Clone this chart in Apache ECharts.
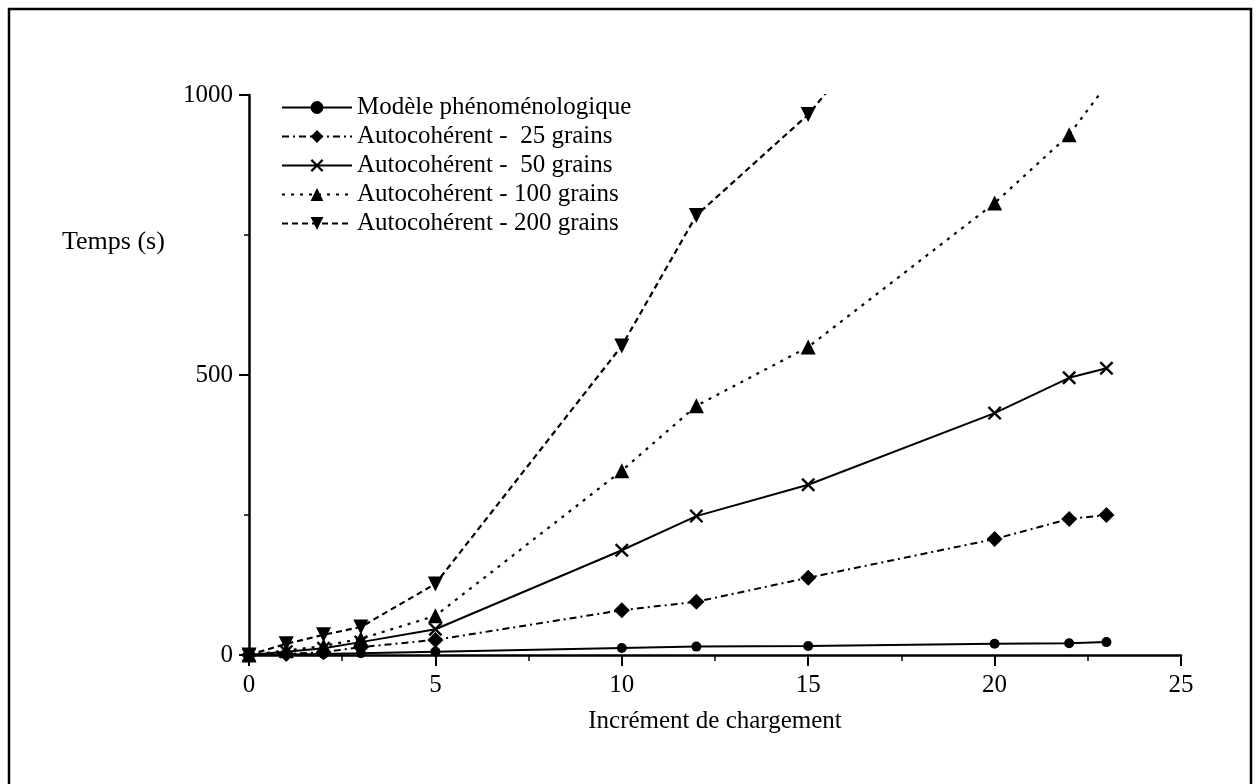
<!DOCTYPE html>
<html>
<head>
<meta charset="utf-8">
<script src="https://cdn.jsdelivr.net/npm/echarts@6/dist/echarts.min.js"></script>
<style>
html,body{margin:0;padding:0;background:#fff;}
#chart{width:1258px;height:784px;}
</style>
</head>
<body>
<div id="chart"></div>
<script>
// Data
const seriesNames = [
  'Modèle phénoménologique',
  'Autocohérent -  25 grains',
  'Autocohérent -  50 grains',
  'Autocohérent - 100 grains',
  'Autocohérent - 200 grains'
];
const xValues = [0, 1, 2, 3, 5, 10, 12, 15, 20, 22, 23];
const phenomValues = [0, 1, 2, 3, 6, 12.5, 15, 16, 20, 21, 23];
const grains25Values = [0, 2, 5, 14, 27, 80, 95, 138, 207, 243, 250];
const grains50Values = [0, 6, 12, 23, 46, 187, 248, 304, 432, 495, 512];
const grains100Values = [0, 8, 16, 29, 70, 329, 445, 550, 807, 929, 1018];
const xValues200 = [0, 1, 2, 3, 5, 10, 12, 15, 20];
const grains200Values = [0, 20, 36, 50, 127, 552, 785, 965, 1370];
const xTicks = [0, 5, 10, 15, 20, 25];
const yTicks = [0, 500, 1000];

function pairs(xs, ys) { return xs.map((x, i) => [x, ys[i]]); }

const FONT = "'Liberation Serif', 'Times New Roman', serif";
const CROSS = 'path://M0,1.2 L1.2,0 L5,3.8 L8.8,0 L10,1.2 L6.2,5 L10,8.8 L8.8,10 L5,6.2 L1.2,10 L0,8.8 L3.8,5 Z';
const DOWN_TRI = 'path://M0,0 L10,0 L5,9 Z';

const chart = echarts.init(document.getElementById('chart'), null, {renderer: 'canvas'});

function mkSeries(name, data, symbol, size, dash, lw) {
  return {
    name: name,
    type: 'line',
    data: data,
    symbol: symbol,
    symbolSize: size,
    showSymbol: true,
    clip: true,
    itemStyle: {color: '#000'},
    lineStyle: {color: '#000', width: lw, type: dash},
    emphasis: {disabled: true}
  };
}

const option = {
  animation: false,
  backgroundColor: '#fff',
  textStyle: {fontFamily: FONT, color: '#000'},
  grid: {left: 249, right: 77, top: 95, bottom: 129, containLabel: false},
  legend: {
    orient: 'vertical',
    left: 276,
    top: 88,
    itemWidth: 70,
    itemHeight: 16,
    itemGap: 0,
    textStyle: {fontFamily: FONT, fontSize: 25, color: '#000', lineHeight: 29},
    data: seriesNames
  },
  graphic: [
    {
      type: 'rect',
      shape: {x: 9, y: 9, width: 1242, height: 820},
      style: {fill: 'none', stroke: '#000', lineWidth: 2.5},
      silent: true
    },
    {
      type: 'text',
      left: 62,
      top: 229,
      style: {text: 'Temps (s)', font: "26px 'Liberation Serif', 'Times New Roman', serif", fill: '#000'},
      silent: true
    }
  ],
  xAxis: {
    type: 'value',
    min: xTicks[0],
    max: xTicks[xTicks.length - 1],
    interval: 5,
    name: 'Incrément de chargement',
    nameLocation: 'middle',
    nameGap: 54,
    nameTextStyle: {fontFamily: FONT, fontSize: 25, color: '#000'},
    axisLine: {show: true, onZero: false, lineStyle: {color: '#000', width: 2.5}},
    axisTick: {show: true, inside: false, length: 11, lineStyle: {color: '#000', width: 2}},
    minorTick: {show: true, splitNumber: 2, length: 6, lineStyle: {color: '#000', width: 1.5}},
    axisLabel: {fontFamily: FONT, fontSize: 25, color: '#000', margin: 18},
    splitLine: {show: false}
  },
  yAxis: {
    type: 'value',
    min: yTicks[0],
    max: yTicks[yTicks.length - 1],
    interval: 500,
    axisLine: {show: true, onZero: false, lineStyle: {color: '#000', width: 2.5}},
    axisTick: {show: true, inside: false, length: 10, lineStyle: {color: '#000', width: 2}},
    minorTick: {show: true, splitNumber: 2, length: 5, lineStyle: {color: '#000', width: 1.5}},
    axisLabel: {fontFamily: FONT, fontSize: 25, color: '#000', margin: 16, formatter: function (v) { return String(v); }},
    splitLine: {show: false}
  },
  series: [
    mkSeries(seriesNames[0], pairs(xValues, phenomValues), 'circle', 10, 'solid', 2),
    mkSeries(seriesNames[1], pairs(xValues, grains25Values), 'diamond', 16, [7, 4, 2, 4], 2),
    mkSeries(seriesNames[2], pairs(xValues, grains50Values), CROSS, 14, 'solid', 2),
    mkSeries(seriesNames[3], pairs(xValues, grains100Values), 'triangle', 15, [3, 6], 2.2),
    mkSeries(seriesNames[4], pairs(xValues200, grains200Values), DOWN_TRI, 15, [6, 4], 2.2)
  ]
};
chart.setOption(option);
</script>
</body>
</html>
